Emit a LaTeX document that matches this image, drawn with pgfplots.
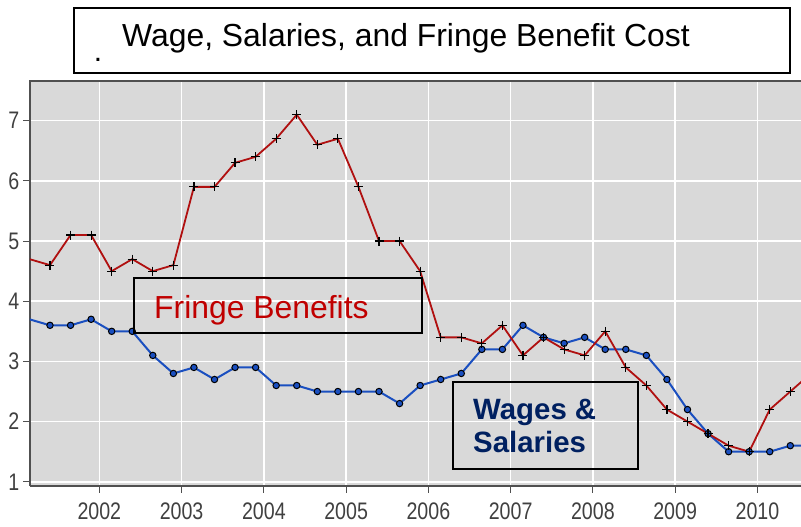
\documentclass[border=0pt]{standalone}
\usepackage{pgfplots}
\pgfplotsset{compat=1.18}
\usepackage{fontspec}
\setmainfont{Liberation Sans}
\newfontfamily\narrowfont[FakeStretch=0.82]{Liberation Sans}
\definecolor{bgray}{RGB}{217,217,217}
\definecolor{fringe}{RGB}{176,16,16}
\definecolor{wage}{RGB}{26,79,192}
\definecolor{navy}{RGB}{0,32,96}
\definecolor{titlered}{RGB}{192,0,0}
\definecolor{axgray}{RGB}{80,80,80}
\begin{document}
\begin{tikzpicture}[x=1bp,y=1bp]
\path[use as bounding box] (-30,-41) rectangle (771,486);
\begin{axis}[
  at={(0,0)}, anchor=south west,
  scale only axis, width=771bp, height=405bp,
  xmin=2001.157, xmax=2010.53, ymin=0.93, ymax=7.66,
  axis background/.style={fill=bgray},
  grid=major, major grid style={white, line width=1.5bp},
  xtick={2002,2003,2004,2005,2006,2007,2008,2009,2010},
  xticklabels={2002,2003,2004,2005,2006,2007,2008,2009,2010},
  ytick={1,2,3,4,5,6,7},
  yticklabels={1,2,3,4,5,6,7},
  axis x line*=bottom, axis y line*=left,
  axis line style={axgray, line width=1.6bp, -},
  tick align=outside, major tick length=7bp,
  tick style={axgray, line width=1bp},
  ticklabel style={font=\narrowfont\fontsize{24}{24}\selectfont, text=black!75, inner sep=0pt},
  xticklabel style={anchor=north, yshift=-10bp},
  yticklabel style={anchor=east, xshift=-3.5bp},
  clip=true,
]
\addplot[wage, line width=2bp, mark=*, mark options={fill=wage, draw=black, line width=1bp, mark size=3.2bp}] coordinates {
(2001.15,3.7) (2001.4,3.6) (2001.65,3.6) (2001.9,3.7)
(2002.15,3.5) (2002.4,3.5) (2002.65,3.1) (2002.9,2.8)
(2003.15,2.9) (2003.4,2.7) (2003.65,2.9) (2003.9,2.9)
(2004.15,2.6) (2004.4,2.6) (2004.65,2.5) (2004.9,2.5)
(2005.15,2.5) (2005.4,2.5) (2005.65,2.3) (2005.9,2.6)
(2006.15,2.7) (2006.4,2.8) (2006.65,3.2) (2006.9,3.2)
(2007.15,3.6) (2007.4,3.4) (2007.65,3.3) (2007.9,3.4)
(2008.15,3.2) (2008.4,3.2) (2008.65,3.1) (2008.9,2.7)
(2009.15,2.2) (2009.4,1.8) (2009.65,1.5) (2009.9,1.5)
(2010.15,1.5) (2010.4,1.6) (2010.65,1.6)
};
\addplot[fringe, line width=1.8bp, mark=+, mark options={black, line width=1.2bp, mark size=4.5bp}] coordinates {
(2001.15,4.7) (2001.4,4.6) (2001.65,5.1) (2001.9,5.1)
(2002.15,4.5) (2002.4,4.7) (2002.65,4.5) (2002.9,4.6)
(2003.15,5.9) (2003.4,5.9) (2003.65,6.3) (2003.9,6.4)
(2004.15,6.7) (2004.4,7.1) (2004.65,6.6) (2004.9,6.7)
(2005.15,5.9) (2005.4,5.0) (2005.65,5.0) (2005.9,4.5)
(2006.15,3.4) (2006.4,3.4) (2006.65,3.3) (2006.9,3.6)
(2007.15,3.1) (2007.4,3.4) (2007.65,3.2) (2007.9,3.1)
(2008.15,3.5) (2008.4,2.9) (2008.65,2.6) (2008.9,2.2)
(2009.15,2.0) (2009.4,1.8) (2009.65,1.6) (2009.9,1.5)
(2010.15,2.2) (2010.4,2.5) (2010.65,2.8)
};
\end{axis}
\draw[axgray, line width=1.6bp] (-0.8,405) -- (771,405);
% title box
\draw[line width=2bp, fill=white] (44,413) rectangle (760,478);
\node[anchor=base, inner sep=0pt, font=\fontsize{32}{38}\selectfont] at (376,439) {Wage, Salaries, and Fringe Benefit Cost};
\node[anchor=base, inner sep=0pt, font=\fontsize{30}{34}\selectfont] at (68,424) {.};
% Fringe benefits label
\draw[line width=1.6bp] (104,153) rectangle (392,208);
\node[anchor=base west, inner sep=0pt, text=titlered, font=\fontsize{32}{38}\selectfont] at (124,167.7) {Fringe Benefits};
% Wages label
\draw[line width=1.6bp] (423,17) rectangle (608,104);
\node[anchor=base west, inner sep=0pt, text=navy, font=\bfseries\fontsize{29.5}{33}\selectfont] at (443,66) {Wages \&};
\node[anchor=base west, inner sep=0pt, text=navy, font=\bfseries\fontsize{29.5}{33}\selectfont] at (443,33) {Salaries};
\end{tikzpicture}
\end{document}
